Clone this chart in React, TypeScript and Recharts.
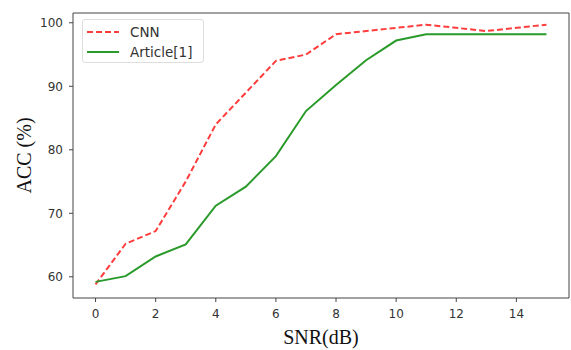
import React from 'react';
import {
  LineChart,
  Line,
  XAxis,
  YAxis,
  Label,
  ReferenceLine,
} from 'recharts';

const snr = [0, 1, 2, 3, 4, 5, 6, 7, 8, 9, 10, 11, 12, 13, 14, 15];
const cnnAcc = [58.8, 65.2, 67.2, 75, 84, 89, 94, 95, 98.2, 98.7, 99.2, 99.7, 99.2, 98.7, 99.2, 99.7];
const articleAcc = [59.2, 60.1, 63.2, 65.1, 71.2, 74.2, 79, 86.1, 90.2, 94.1, 97.2, 98.2, 98.2, 98.2, 98.2, 98.2];
const xTicks = [0, 2, 4, 6, 8, 10, 12, 14];
const yTicks = [60, 70, 80, 90, 100];
const xDomain = [-0.75, 15.75];
const yDomain = [56.66, 101.54];

const RED = '#ff3d3d';
const GREEN = '#2a9a2a';
const AXIS = '#444';

const data = snr.map((x, i) => ({ snr: x, cnn: cnnAcc[i], article: articleAcc[i] }));

const LegendBox = () => (
  <div
    style={{
      position: 'absolute',
      left: 82,
      top: 19,
      width: 122,
      height: 44,
      border: '1px solid #ddd',
      borderRadius: 3,
      background: 'rgba(255,255,255,0.85)',
      padding: '2px 0 0 4px',
      fontFamily: '"DejaVu Sans", sans-serif',
      fontSize: 13.5,
      color: '#333',
      boxSizing: 'border-box',
    }}
  >
    {[
      { name: 'CNN', color: RED, dash: '6 3' },
      { name: 'Article[1]', color: GREEN, dash: undefined },
    ].map((e) => (
      <div key={e.name} style={{ display: 'flex', alignItems: 'center', height: 20 }}>
        <svg width={32} height={10} style={{ marginRight: 11 }}>
          <line x1={0} y1={5} x2={32} y2={5} stroke={e.color} strokeWidth={2} strokeDasharray={e.dash} />
        </svg>
        <span>{e.name}</span>
      </div>
    ))}
  </div>
);

const tickStyle = { fill: '#333', fontSize: 12, fontFamily: '"DejaVu Sans", sans-serif' };

export default function App() {
  return (
    <div style={{ position: 'absolute', left: 0, top: 0, width: 571, height: 350, background: '#fff' }}>
      <LineChart width={571} height={350} data={data} margin={{ top: 13, right: 2, bottom: 0, left: 0 }}>
        <XAxis
          dataKey="snr"
          type="number"
          domain={xDomain}
          ticks={xTicks}
          allowDataOverflow
          height={52}
          stroke={AXIS}
          tickSize={4}
          tick={tickStyle}
          tickMargin={7}
        >
          <Label
            value="SNR(dB)"
            position="insideBottom"
            offset={6}
            style={{ fontFamily: '"Liberation Serif", serif', fontSize: 20, fill: '#111' }}
          />
        </XAxis>
        <YAxis
          type="number"
          domain={yDomain}
          ticks={yTicks}
          allowDataOverflow
          width={73}
          stroke={AXIS}
          tickSize={4}
          tick={tickStyle}
          tickMargin={6}
        >
          <Label
            value="ACC (%)"
            angle={-90}
            position="insideLeft"
            offset={24}
            style={{ fontFamily: '"Liberation Serif", serif', fontSize: 20, fill: '#111', textAnchor: 'middle' }}
          />
        </YAxis>
        <ReferenceLine y={yDomain[1]} stroke={AXIS} strokeWidth={1} />
        <ReferenceLine x={xDomain[1]} stroke={AXIS} strokeWidth={1} />
        <Line
          dataKey="cnn"
          stroke={RED}
          strokeWidth={2}
          strokeDasharray="6 3"
          dot={false}
          isAnimationActive={false}
        />
        <Line
          dataKey="article"
          stroke={GREEN}
          strokeWidth={2}
          dot={false}
          isAnimationActive={false}
        />
      </LineChart>
      <LegendBox />
    </div>
  );
}
